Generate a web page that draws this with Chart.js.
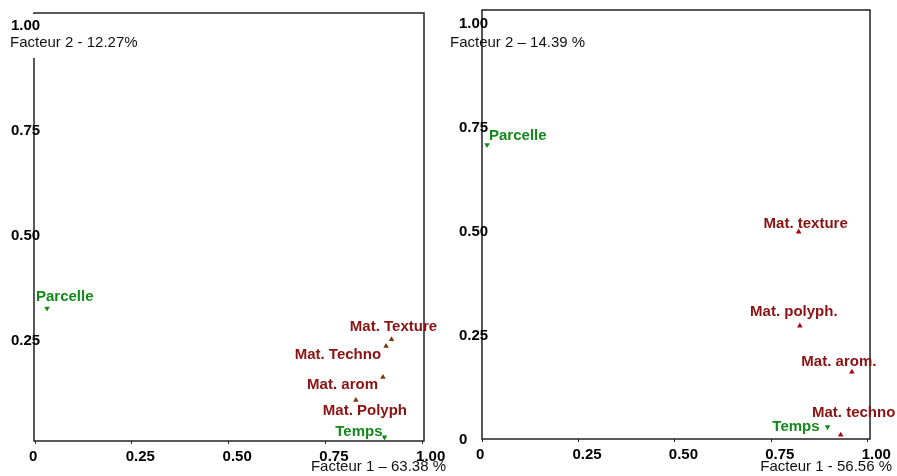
<!DOCTYPE html>
<html>
<head>
<meta charset="utf-8">
<script src="https://cdn.jsdelivr.net/npm/chart.js@4.4.1/dist/chart.umd.min.js"></script>
<style>
  body{margin:0;background:#fff;width:897px;height:476px;position:relative;overflow:hidden;}
  .pane{position:absolute;top:0;height:476px;}
  #p1{left:0;width:450px;}
  #p2{left:440px;width:457px;}
</style>
</head>
<body>
<div class="pane" id="p1"><canvas id="chart1"></canvas></div>
<div class="pane" id="p2"><canvas id="chart2"></canvas></div>
<script>
// left panel
const names1=['Parcelle','Mat. Texture','Mat. Techno','Mat. arom','Mat. Polyph','Temps'];
const f1Left=[0.031,0.921,0.907,0.899,0.829,0.903];
const f2Left=[0.326,0.252,0.236,0.162,0.107,0.019];
const group1=['var','mat','mat','mat','mat','var'];
const xTitle1='Facteur 1 \u2013 63.38 %';
const yTitle1='Facteur 2 - 12.27%';

// right panel
const names2=['Parcelle','Mat. texture','Mat. polyph.','Mat. arom.','Mat. techno','Temps'];
const f1Right=[0.013,0.821,0.824,0.959,0.930,0.896];
const f2Right=[0.707,0.498,0.272,0.161,0.010,0.029];
const group2=['var','mat','mat','mat','mat','var'];
const xTitle2='Facteur 1 - 56.56 %';
const yTitle2='Facteur 2 \u2013 14.39 %';

const xTicks=[0,0.25,0.5,0.75,1];
const yTicks1=[0.25,0.5,0.75,1];
const yTicks2=[0,0.25,0.5,0.75,1];

// label placement (offset from the point, text align)
const place1=[[-11,-11,'left'],[2,-12,'center'],[-5,9,'right'],[-5,8,'right'],[9,11,'center'],[-2,-5,'right']];
const place2=[[2,-9,'left'],[7,-8,'center'],[-6,-14,'center'],[-13,-10,'center'],[13,-22,'center'],[-8,0,'right']];

const GREEN='#13891a';
const LABEL_RED='#8c1212';
const fmt=v=>v===0?'0':v.toFixed(2);

function makeChart(id,names,xs,ys,groups,place,opt){
  const pts=xs.map((x,i)=>({x:x,y:ys[i]}));
  const labelPlugin={
    id:'labels'+id,
    beforeDraw(chart){
      const {ctx,chartArea:a}=chart;
      ctx.save();
      ctx.strokeStyle='#222';
      ctx.lineWidth=1.5;
      ctx.strokeRect(a.left,a.top,a.right-a.left,a.bottom-a.top);
      if(opt.gap){
        ctx.fillStyle='#fff';
        ctx.fillRect(a.left-2,a.top+1,4,44);
      }
      ctx.restore();
    },
    afterDraw(chart){
      const {ctx,chartArea:a}=chart;
      const meta=chart.getDatasetMeta(0);
      ctx.save();
      ctx.font='bold 15px "Liberation Sans", Arial, sans-serif';
      ctx.textBaseline='middle';
      meta.data.forEach((el,i)=>{
        const p=place[i];
        ctx.fillStyle=groups[i]==='var'?GREEN:LABEL_RED;
        ctx.textAlign=p[2];
        ctx.fillText(names[i],el.x+p[0],el.y+p[1]);
      });
      ctx.font='15px "Liberation Sans", Arial, sans-serif';
      ctx.fillStyle='#111';
      ctx.textAlign='left';
      ctx.fillText(opt.yTitle,10,43);
      ctx.textAlign='right';
      ctx.fillText(opt.xTitle,a.right+22,467);
      ctx.restore();
    }
  };
  return new Chart(document.getElementById(id),{
    type:'scatter',
    data:{datasets:[{
      data:pts,
      pointStyle:'triangle',
      pointRadius:3.2,
      pointRotation:groups.map(g=>g==='var'?180:0),
      pointBackgroundColor:groups.map(g=>g==='var'?GREEN:opt.markColor),
      pointBorderColor:groups.map(g=>g==='var'?GREEN:opt.markColor),
      pointBorderWidth:0
    }]},
    options:{
      responsive:false,
      animation:false,
      layout:{padding:{top:opt.top,right:opt.right,left:0,bottom:0}},
      plugins:{legend:{display:false},tooltip:{enabled:false}},
      scales:{
        x:{
          type:'linear',min:opt.xmin,max:opt.xmax,
          afterBuildTicks:s=>{s.ticks=xTicks.map(v=>({value:v}));},
          afterFit:s=>{s.height=opt.xh;s.paddingLeft=0;s.paddingRight=0;},
          border:{display:false},
          grid:{drawOnChartArea:false,drawTicks:true,tickLength:3,color:'#222',lineWidth:1},
          ticks:{align:'start',labelOffset:-6,padding:4,color:'#000',
            font:{family:'"Liberation Sans", Arial, sans-serif',size:15,weight:'bold'},
            callback:v=>fmt(v)}
        },
        y:{
          type:'linear',min:opt.ymin,max:opt.ymax,
          afterBuildTicks:s=>{s.ticks=opt.yTicks.map(v=>({value:v}));},
          afterFit:s=>{s.width=opt.yw;s.paddingTop=0;s.paddingBottom=0;},
          border:{display:false},
          grid:{drawOnChartArea:false,drawTicks:false},
          ticks:{mirror:true,padding:-23,color:'#000',labelOffset:1,
            font:{family:'"Liberation Sans", Arial, sans-serif',size:15,weight:'bold'},
            callback:v=>fmt(v)}
        }
      }
    },
    plugins:[labelPlugin]
  });
}

const c1=document.getElementById('chart1');
c1.width=450;c1.height=476;
const c2=document.getElementById('chart2');
c2.width=457;c2.height=476;

makeChart('chart1',names1,f1Left,f2Left,group1,place1,{
  xmin:-0.0026,xmax:1.005,ymin:0.01,ymax:1.029,
  yTicks:yTicks1,top:13,right:26,yw:34,xh:35,
  markColor:'#7b3a0e',xTitle:xTitle1,yTitle:yTitle1,gap:true
});
makeChart('chart2',names2,f1Right,f2Right,group2,place2,{
  xmin:0,xmax:1.006,ymin:0,ymax:1.031,
  yTicks:yTicks2,top:10,right:27,yw:42,xh:37,
  markColor:'#b0000f',xTitle:xTitle2,yTitle:yTitle2,gap:false
});
</script>
</body>
</html>
